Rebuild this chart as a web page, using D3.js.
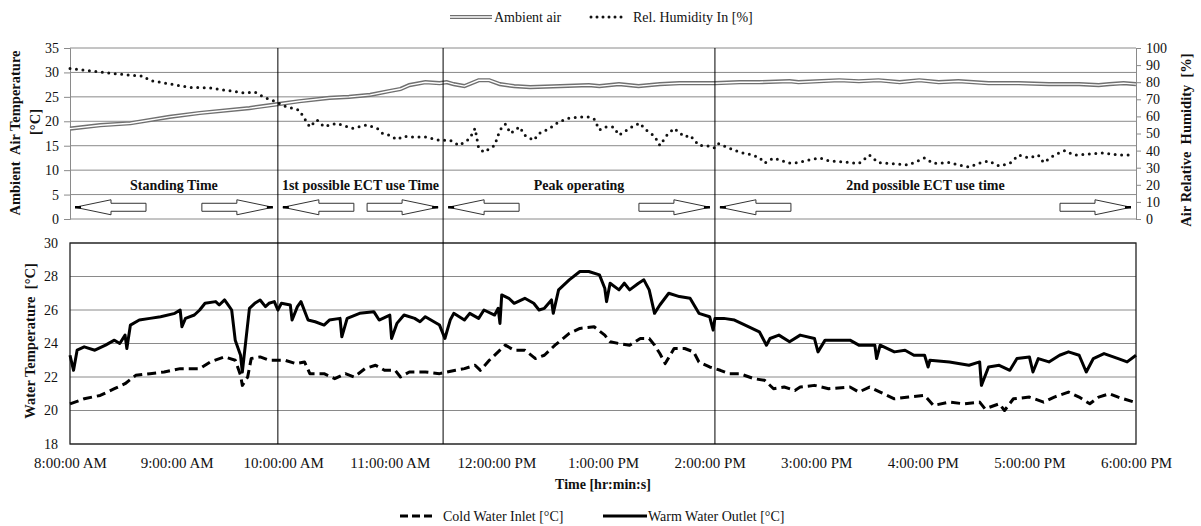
<!DOCTYPE html>
<html>
<head>
<meta charset="utf-8">
<script src="https://cdn.jsdelivr.net/npm/d3@7"></script>
<style>
  body { margin: 0; background: #fff; }
  svg { display: block; font-family: "Liberation Serif", "Times New Roman", serif; }
</style>
</head>
<body>
<svg id="chart" width="1201" height="526"></svg>
<script>
// ---- data ----------------------------------------------------------------
const tickTimes  = ["8:00","9:00","10:00","11:00","12:00","13:00","14:00","15:00","16:00","17:00","18:00"];
const tickLabels = ["8:00:00 AM","9:00:00 AM","10:00:00 AM","11:00:00 AM","12:00:00 PM","1:00:00 PM",
                    "2:00:00 PM","3:00:00 PM","4:00:00 PM","5:00:00 PM","6:00:00 PM"];
const airTempTicks  = [0, 5, 10, 15, 20, 25, 30, 35];
const humidityTicks = [0, 10, 20, 30, 40, 50, 60, 70, 80, 90, 100];
const waterTicks    = [18, 20, 22, 24, 26, 28, 30];

// operating phases: boundaries and names
const phaseBounds = ["8:00", "9:57", "11:30", "14:03", "18:00"];
const phaseNames  = ["Standing Time", "1st possible ECT use Time", "Peak operating", "2nd possible ECT use time"];

// ambient air temperature [°C]
const ambientTimes = ["8:00","8:17","8:34","8:56","9:13","9:41","9:57","10:09","10:26","10:37",
                      "10:49","11:00","11:06","11:11","11:20","11:28","11:32","11:36","11:42","11:50",
                      "11:56","12:02","12:10","12:19","12:36","12:52","12:58","13:09","13:20","13:32",
                      "13:43","13:54","14:03","14:17","14:28","14:45","14:50","15:13","15:24","15:35",
                      "15:47","15:58","16:09","16:20","16:37","16:54","17:11","17:28","17:39","17:45",
                      "17:53","18:00"];
const ambientTemps = [18.5,19.2,19.6,20.9,21.7,22.7,23.5,24.1,24.8,25.0,
                      25.4,26.2,26.6,27.4,28.0,27.8,28.0,27.6,27.2,28.4,
                      28.4,27.6,27.2,27.0,27.2,27.4,27.2,27.6,27.2,27.6,
                      27.8,27.8,27.8,28.0,28.0,28.2,28.0,28.4,28.2,28.4,
                      28.0,28.4,28.0,28.2,27.8,27.8,27.6,27.6,27.4,27.6,
                      27.8,27.6];

// relative humidity of the intake air [%]
const humidityTimes = ["8:00","8:04","8:17","8:34","8:41","8:45","8:56","9:07","9:19","9:27",
                       "9:38","9:44","9:50","9:55","10:01","10:09","10:15","10:19","10:23","10:30",
                       "10:36","10:39","10:47","10:53","10:56","11:00","11:04","11:08","11:11","11:20",
                       "11:28","11:34","11:39","11:45","11:48","11:50","11:53","11:59","12:02","12:05",
                       "12:08","12:13","12:16","12:21","12:24","12:30","12:35","12:41","12:47","12:52",
                       "12:55","12:58","13:01","13:06","13:09","13:12","13:18","13:21","13:23","13:29",
                       "13:32","13:36","13:40","13:46","13:49","13:54","14:00","14:03","14:05","14:11",
                       "14:17","14:22","14:28","14:31","14:36","14:45","14:50","14:56","15:02","15:07",
                       "15:19","15:24","15:30","15:35","15:47","15:52","16:01","16:06","16:15","16:20",
                       "16:26","16:32","16:37","16:43","16:49","16:54","17:00","17:05","17:08","17:14",
                       "17:20","17:25","17:34","17:42","17:50","17:59"];
const humidityValues = [88,87.5,86,84,83.6,81,79,77,76.6,75.4,
                        73.7,74.2,70.8,69,66,63.7,53.8,58,54,56,
                        54,53,55,53,50,49,46.5,48.5,48,48,
                        46,46,43,47,53,41.5,39,43,52,55.5,
                        50,54,49,46,50,53,56.7,59,59.6,59.6,
                        58.5,52,53.8,53.8,49,51,55,56,53,48.5,
                        43,49,53,48,49,43,42.7,41.5,44,41.5,
                        39,38,36,32.7,35.7,32.7,33,34.5,35.7,34,
                        33,32.4,37.4,33,32,31.6,35.7,32.5,33,31.6,
                        30.4,32.7,34,31,32.5,37.4,35.7,37.4,33,37.4,
                        40,37.4,38,38.6,37.4,37.4];

// cold water inlet [°C]
const inletTimes = ["8:00","8:08","8:17","8:25","8:31","8:37","8:45","8:53","9:02","9:13",
                    "9:19","9:27","9:33","9:36","9:37","9:40","9:42","9:47","9:52","10:01",
                    "10:07","10:12","10:15","10:23","10:29","10:35","10:40","10:46","10:52","10:57",
                    "11:03","11:06","11:11","11:20","11:28","11:37","11:42","11:48","11:51","11:56",
                    "12:02","12:05","12:10","12:16","12:22","12:27","12:33","12:41","12:47","12:55",
                    "13:01","13:04","13:09","13:15","13:21","13:26","13:29","13:32","13:35","13:40",
                    "13:46","13:51","13:54","14:00","14:06","14:11","14:17","14:25","14:31","14:36",
                    "14:42","14:48","14:51","14:59","15:07","15:19","15:24","15:30","15:36","15:44",
                    "15:52","16:01","16:06","16:15","16:23","16:32","16:35","16:43","16:46","16:51",
                    "17:00","17:08","17:14","17:22","17:28","17:34","17:39","17:45","17:50","17:59"];
const inletTemps = [20.4,20.7,20.9,21.3,21.6,22.1,22.2,22.3,22.5,22.5,
                    22.9,23.2,23.0,22.1,21.5,22.0,23.1,23.2,23.0,23.0,
                    22.8,22.9,22.2,22.2,21.9,22.2,22.0,22.5,22.7,22.4,
                    22.4,22.0,22.3,22.3,22.2,22.4,22.5,22.7,22.4,23.0,
                    23.6,23.9,23.6,23.6,23.1,23.3,23.9,24.6,24.9,25.0,
                    24.5,24.1,24.0,23.9,24.3,24.3,23.9,23.4,22.8,23.7,
                    23.7,23.5,22.9,22.6,22.4,22.2,22.2,21.9,21.8,21.3,
                    21.4,21.2,21.4,21.5,21.3,21.4,21.1,21.4,21.1,20.7,
                    20.8,20.9,20.3,20.5,20.4,20.5,20.1,20.4,20.0,20.7,
                    20.8,20.5,20.8,21.1,20.8,20.4,20.8,21.0,20.8,20.5];

// warm water outlet [°C]
const outletTimes = ["8:00","8:02","8:04","8:08","8:14","8:20","8:25","8:28","8:31","8:32",
                     "8:34","8:39","8:45","8:51","8:59","9:02","9:03","9:05","9:10","9:13",
                     "9:16","9:22","9:24","9:27","9:29","9:31","9:33","9:36","9:37","9:39",
                     "9:41","9:44","9:47","9:50","9:52","9:55","9:57","9:59","10:04","10:05",
                     "10:08","10:10","10:14","10:18","10:23","10:26","10:32","10:33","10:36","10:43",
                     "10:51","10:54","11:00","11:01","11:04","11:08","11:14","11:17","11:20","11:28",
                     "11:31","11:34","11:36","11:42","11:45","11:50","11:53","11:59","12:01","12:02",
                     "12:03","12:07","12:10","12:16","12:21","12:24","12:27","12:31","12:32","12:35",
                     "12:41","12:47","12:52","12:58","13:01","13:02","13:04","13:09","13:12","13:15",
                     "13:20","13:23","13:26","13:29","13:32","13:37","13:43","13:49","13:54","14:00",
                     "14:02","14:03","14:08","14:14","14:20","14:28","14:32","14:34","14:39","14:45",
                     "14:51","14:59","15:01","15:05","15:19","15:24","15:33","15:34","15:36","15:44",
                     "15:50","15:55","16:01","16:03","16:04","16:15","16:26","16:32","16:33","16:37",
                     "16:43","16:49","16:53","17:00","17:02","17:05","17:11","17:17","17:22","17:28",
                     "17:32","17:36","17:42","17:50","17:55","18:00"];
const outletTemps = [23.3,22.4,23.6,23.8,23.6,23.9,24.2,24.0,24.5,23.7,
                     25.1,25.4,25.5,25.6,25.8,26.0,25.0,25.5,25.7,26.0,
                     26.4,26.5,26.3,26.6,26.3,26.0,24.2,23.3,22.3,24.2,
                     26.1,26.4,26.6,26.2,26.4,26.5,26.0,26.4,26.3,25.4,
                     26.2,26.5,25.4,25.3,25.1,25.4,25.5,24.4,25.5,25.8,
                     25.9,25.4,25.7,24.3,25.2,25.7,25.5,25.3,25.6,25.1,
                     24.3,25.4,25.8,25.4,25.8,25.5,26.0,25.7,26.1,25.2,
                     26.9,26.7,26.4,26.7,26.4,26.0,26.1,26.6,25.8,27.2,
                     27.8,28.3,28.3,28.1,27.3,26.5,27.6,27.2,27.6,27.2,
                     27.6,27.8,27.2,25.8,26.3,27.0,26.8,26.7,25.8,25.6,
                     24.8,25.5,25.5,25.4,25.1,24.7,23.9,24.3,24.5,24.1,
                     24.5,24.3,23.5,24.2,24.2,23.9,23.9,23.1,23.9,23.5,
                     23.6,23.3,23.3,22.6,23.0,22.9,22.7,22.9,21.5,22.6,
                     22.7,22.4,23.1,23.2,22.3,23.1,22.9,23.3,23.5,23.3,
                     22.3,23.1,23.4,23.1,22.9,23.3];

// ---- scales ----------------------------------------------------------------
const parseTime = d3.timeParse("%H:%M");
const svg = d3.select("#chart");

const x  = d3.scaleTime().domain([parseTime("8:00"), parseTime("18:00")]).range([70, 1136]);
const yAir = d3.scaleLinear().domain([0, 35]).range([219, 48]);
const yHum = d3.scaleLinear().domain([0, 100]).range([219, 48]);
const yWat = d3.scaleLinear().domain([18, 30]).range([444, 243]);

const zip = (times, vals) => times.map((t, i) => ({ t: parseTime(t), v: vals[i] }));
const ambient  = zip(ambientTimes, ambientTemps);
const humidity = zip(humidityTimes, humidityValues);
const inlet    = zip(inletTimes, inletTemps);
const outlet   = zip(outletTimes, outletTemps);

const gridColor = "#8a8a8a";
const [x0, x1] = x.range();

// ---- upper panel: air temperature & humidity --------------------------------
const upper = svg.append("g");
upper.selectAll("line.grid").data(airTempTicks).join("line")
  .attr("x1", x0).attr("x2", x1)
  .attr("y1", d => yAir(d)).attr("y2", d => yAir(d))
  .attr("stroke", gridColor).attr("stroke-width", 1);

const leftAxis = upper.append("g").attr("transform", `translate(${x0},0)`)
  .call(d3.axisLeft(yAir).tickValues(airTempTicks).tickSize(6).tickPadding(5));
const rightAxis = upper.append("g").attr("transform", `translate(${x1},0)`)
  .call(d3.axisRight(yHum).tickValues(humidityTicks).tickSize(5).tickPadding(5));
[leftAxis, rightAxis].forEach(a => {
  a.selectAll("path, line").attr("stroke", gridColor);
  a.selectAll("text").attr("font-size", 14).attr("fill", "#111")
    .style("font-family", "'Liberation Serif', serif");
});

// ambient air: double line (grey outline, white core)
const airLine = d3.line().x(d => x(d.t)).y(d => yAir(d.v));
upper.append("path").datum(ambient).attr("d", airLine)
  .attr("fill", "none").attr("stroke", "#707070").attr("stroke-width", 4.2);
upper.append("path").datum(ambient).attr("d", airLine)
  .attr("fill", "none").attr("stroke", "#fff").attr("stroke-width", 1.4);

// humidity: round-dotted line
const humLine = d3.line().x(d => x(d.t)).y(d => yHum(d.v));
upper.append("path").datum(humidity).attr("d", humLine)
  .attr("fill", "none").attr("stroke", "#111").attr("stroke-width", 3)
  .attr("stroke-linecap", "round").attr("stroke-dasharray", "0 6.5");

// phase names
const phaseT = phaseBounds.map(parseTime);
upper.selectAll("text.phase").data(phaseNames).join("text")
  .attr("x", (d, i) => (x(phaseT[i]) + x(phaseT[i + 1])) / 2)
  .attr("y", yAir(6))
  .attr("text-anchor", "middle").attr("font-size", 14).attr("font-weight", "bold")
  .attr("fill", "#111").text(d => d);

// phase arrows: hollow block arrows pointing to both ends of each phase
const arrowY = yAir(2.4);
function arrowPoints(tip, dir) {
  // dir = +1 points right, -1 points left
  const head = 36, len = 71, hh = 7.5, sh = 4;
  const p = [[0, 0], [head, -hh], [head, -sh], [len, -sh], [len, sh], [head, sh], [head, hh]];
  return p.map(([dx, dy]) => [tip - dir * dx, arrowY + dy]);
}
const arrows = [];
phaseT.slice(0, -1).forEach((t, i) => {
  arrows.push({ tip: x(t) + 5, dir: -1 });
  arrows.push({ tip: x(phaseT[i + 1]) - 5, dir: 1 });
});
upper.selectAll("polygon.arrow").data(arrows).join("polygon")
  .attr("points", d => arrowPoints(d.tip, d.dir).map(p => p.join(",")).join(" "))
  .attr("fill", "#fff").attr("stroke", "#333").attr("stroke-width", 1);
upper.selectAll("line.tip").data(arrows).join("line")
  .attr("x1", d => d.tip).attr("x2", d => d.tip - d.dir * 6)
  .attr("y1", arrowY).attr("y2", arrowY)
  .attr("stroke", "#000").attr("stroke-width", 2.5);

// ---- lower panel: water temperatures ----------------------------------------
const lower = svg.append("g");
lower.selectAll("line.grid").data(waterTicks).join("line")
  .attr("x1", x0).attr("x2", x1)
  .attr("y1", d => yWat(d)).attr("y2", d => yWat(d))
  .attr("stroke", gridColor).attr("stroke-width", 1);
lower.append("rect")
  .attr("x", x0).attr("y", yWat(30)).attr("width", x1 - x0).attr("height", yWat(18) - yWat(30))
  .attr("fill", "none").attr("stroke", "#222").attr("stroke-width", 1.3);

const waterAxis = lower.append("g").attr("transform", `translate(${x0},0)`)
  .call(d3.axisLeft(yWat).tickValues(waterTicks).tickSize(0).tickPadding(12));
waterAxis.select(".domain").remove();
const timeAxis = lower.append("g").attr("transform", `translate(0,${yWat(18)})`)
  .call(d3.axisBottom(x).tickValues(tickTimes.map(parseTime))
    .tickFormat((d, i) => tickLabels[i]).tickSize(0).tickPadding(13));
timeAxis.select(".domain").remove();
[waterAxis, timeAxis].forEach(a => a.selectAll("text").attr("fill", "#111")
  .style("font-family", "'Liberation Serif', serif"));
waterAxis.selectAll("text").attr("font-size", 14);
timeAxis.selectAll("text").attr("font-size", 15);

const watLine = d3.line().x(d => x(d.t)).y(d => yWat(d.v));
lower.append("path").datum(inlet).attr("d", watLine)
  .attr("fill", "none").attr("stroke", "#000").attr("stroke-width", 3)
  .attr("stroke-dasharray", "9 5").attr("stroke-linejoin", "round");
lower.append("path").datum(outlet).attr("d", watLine)
  .attr("fill", "none").attr("stroke", "#000").attr("stroke-width", 3)
  .attr("stroke-linejoin", "round");

// phase dividers spanning both panels
svg.selectAll("line.divider").data(phaseT.slice(1, -1)).join("line")
  .attr("x1", d => x(d)).attr("x2", d => x(d))
  .attr("y1", yAir(35)).attr("y2", yWat(18))
  .attr("stroke", "#000").attr("stroke-width", 1);

// ---- axis titles ---------------------------------------------------------------
function vTitle(cx, cy, text) {
  svg.append("text").attr("transform", `translate(${cx},${cy}) rotate(-90)`)
    .attr("text-anchor", "middle").attr("font-size", 14.5).attr("font-weight", "bold")
    .attr("fill", "#111").style("white-space", "pre").text(text);
}
vTitle(20, 133, "Ambient  Air Temperature");
vTitle(40, 122, "[°C]");
vTitle(1191, 140, "Air Relative  Humidity  [%]");
vTitle(35, 341, "Water Temperature  [°C]");

svg.append("text").attr("x", 603).attr("y", 489).attr("text-anchor", "middle")
  .attr("font-size", 14).attr("font-weight", "bold").attr("fill", "#111").text("Time [hr:min:s]");

// ---- legends -------------------------------------------------------------------
const lg = svg.append("g").attr("font-size", 14).attr("fill", "#111");
// legend above the upper panel
lg.append("line").attr("x1", 450).attr("x2", 492).attr("y1", 17).attr("y2", 17)
  .attr("stroke", "#707070").attr("stroke-width", 4.2);
lg.append("line").attr("x1", 450).attr("x2", 492).attr("y1", 17).attr("y2", 17)
  .attr("stroke", "#fff").attr("stroke-width", 1.4);
lg.append("text").attr("x", 494).attr("y", 22).text("Ambient air");
lg.append("line").attr("x1", 591).attr("x2", 622).attr("y1", 17).attr("y2", 17)
  .attr("stroke", "#111").attr("stroke-width", 3).attr("stroke-linecap", "round")
  .attr("stroke-dasharray", "0 6");
lg.append("text").attr("x", 633).attr("y", 22).text("Rel. Humidity In [%]");
// legend below the lower panel
lg.append("line").attr("x1", 400).attr("x2", 434).attr("y1", 516).attr("y2", 516)
  .attr("stroke", "#000").attr("stroke-width", 3).attr("stroke-dasharray", "8 4");
lg.append("text").attr("x", 443).attr("y", 521).text("Cold Water Inlet [°C]");
lg.append("line").attr("x1", 603).attr("x2", 647).attr("y1", 516).attr("y2", 516)
  .attr("stroke", "#000").attr("stroke-width", 3);
lg.append("text").attr("x", 648).attr("y", 521).text("Warm Water Outlet [°C]");
</script>
</body>
</html>
